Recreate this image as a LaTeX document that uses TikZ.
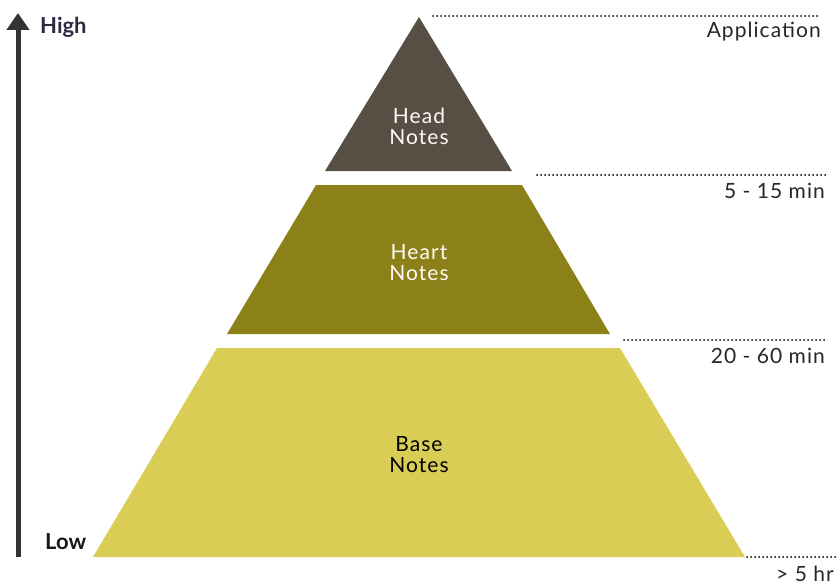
\documentclass[tikz,border=0pt]{standalone}
\usepackage{fontspec}
\setmainfont{Lato}
\newfontfamily\widefont[LetterSpace=5]{Lato}
\usetikzlibrary{arrows.meta}

\definecolor{headcol}{HTML}{574F43}
\definecolor{heartcol}{HTML}{8C8119}
\definecolor{basecol}{HTML}{D9CD55}
\definecolor{highcol}{HTML}{2B2A45}

\tikzset{
  layertext/.style={align=center, font=\widefont\fontsize{21}{21}\selectfont, inner sep=0pt},
  timetext/.style={anchor=east, font=\widefont\fontsize{21}{21}\selectfont, inner sep=0pt, text=black!85},
  level/.style={line width=2pt, line cap=round, dash pattern=on 0pt off 4pt},
  endtext/.style={font=\bfseries\fontsize{22}{22}\selectfont, inner sep=0pt}
}

\begin{document}
\begin{tikzpicture}[x=1pt, y=-1pt]
\useasboundingbox (0,0) rectangle (840,586);

% the three layers of the pyramid
\fill[headcol] (419,17) -- (512,171) -- (325,171) -- cycle;
\fill[heartcol] (316,185) -- (522,185) -- (610,334) -- (227,334) -- cycle;
\fill[basecol] (217,348) -- (620,348) -- (745,557) -- (93,557) -- cycle;

\node[layertext, text=white!92!pink] (head) at (419,126) {Head\\Notes};
\node[layertext, text=white!92!pink] (heart) at (419,263) {Heart\\Notes};
\node[layertext, text=black] (base) at (419,455) {Base\\Notes};

% intensity axis
\coordinate (low) at (18,557);
\coordinate (high) at (18,13);
\draw[line width=5pt, black!80, -{Triangle[width=22pt,length=17pt]}] (low) -- (high);
\node[endtext, text=highcol, anchor=west] (hightxt) at (40,27) {High};
\node[endtext, text=black!90, anchor=west] (lowtxt) at (45,542) {Low};

% time levels
\coordinate (l1a) at (433,16);  \coordinate (l1b) at (820,16);
\coordinate (l2a) at (537,175); \coordinate (l2b) at (825,175);
\coordinate (l3a) at (624,340); \coordinate (l3b) at (824,340);
\coordinate (l4a) at (747,557); \coordinate (l4b) at (836,557);
\draw[level] (l1a) -- (l1b);
\draw[level] (l2a) -- (l2b);
\draw[level] (l3a) -- (l3b);
\draw[level] (l4a) -- (l4b);

\node[timetext] (t1) at (821,32) {Application};
\node[timetext] (t2) at (825,191) {5 - 15 min};
\node[timetext] (t3) at (825,356) {20 - 60 min};
\node[timetext] (t4) at (834,574) {> 5 hr};
\end{tikzpicture}
\end{document}
